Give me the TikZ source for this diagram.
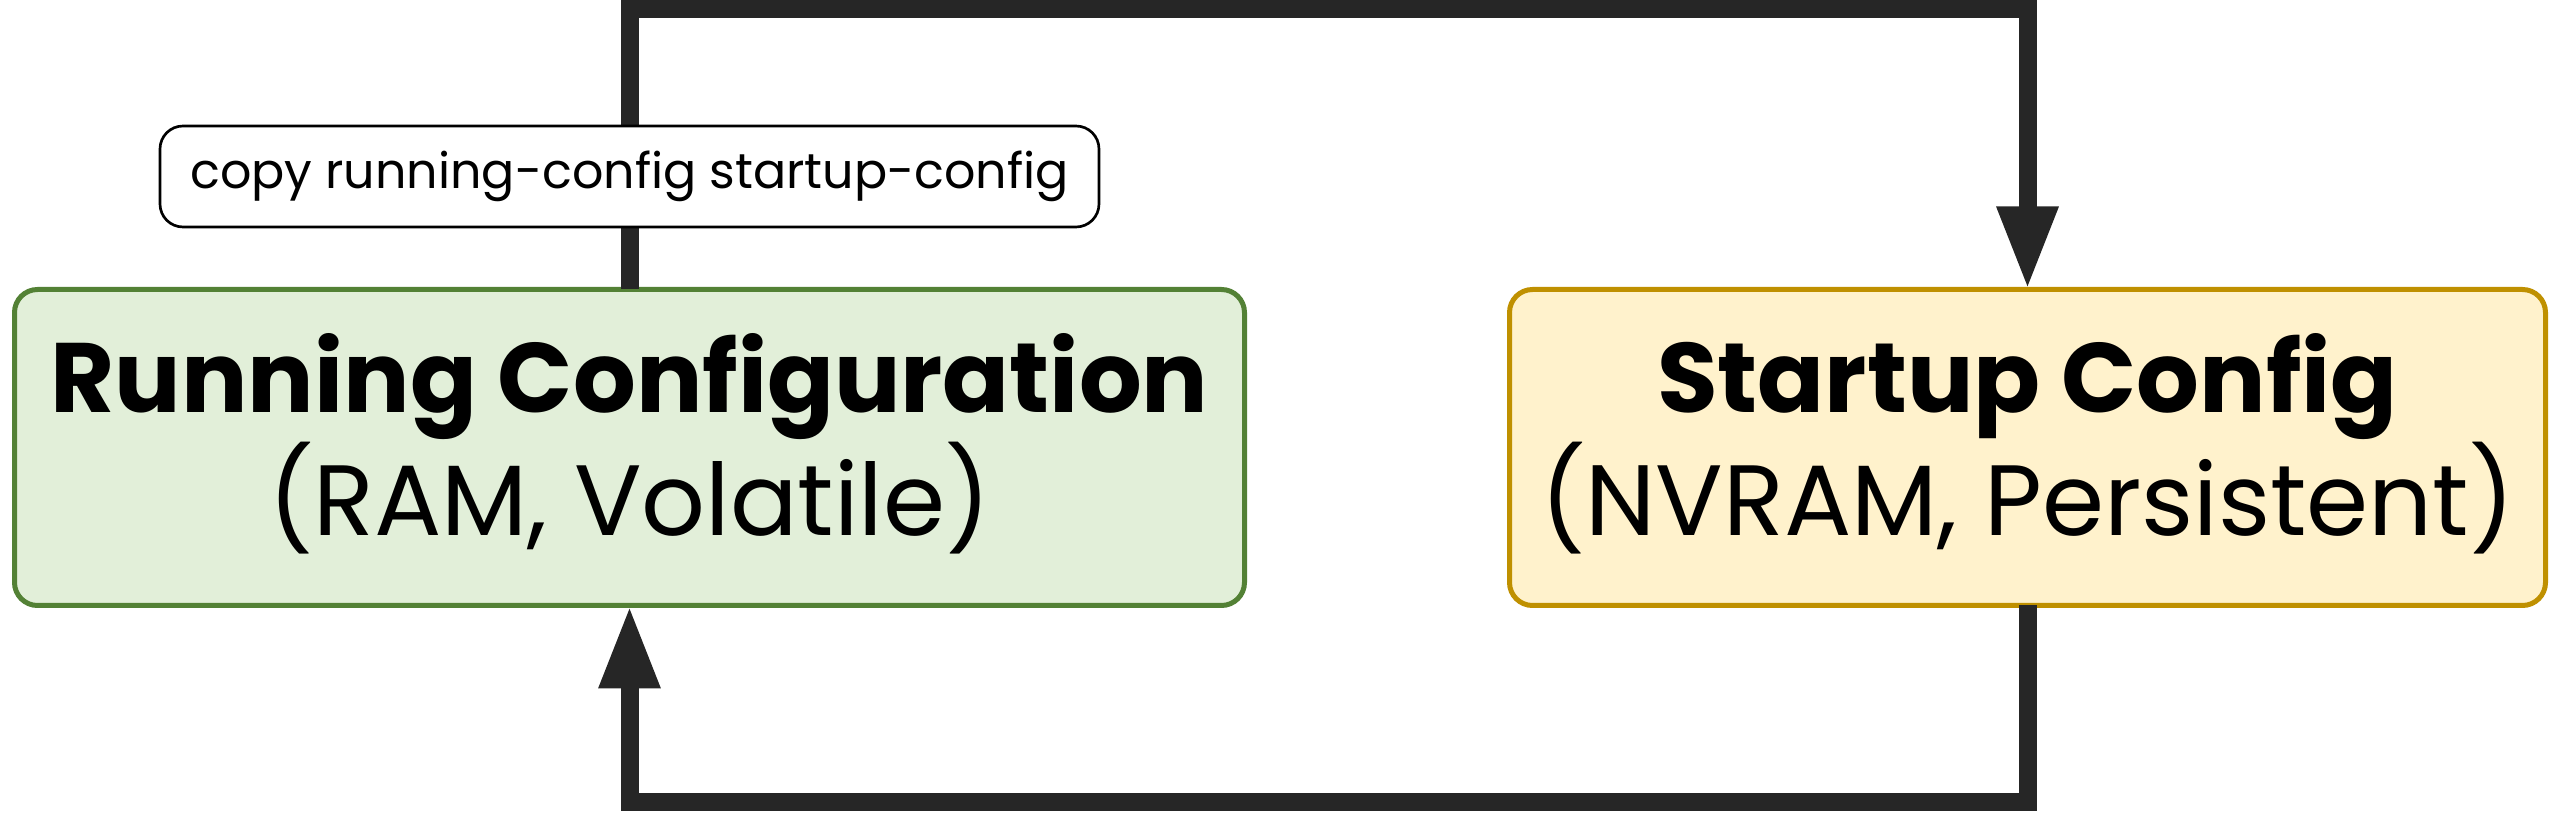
\documentclass[tikz,border=0pt]{standalone}
\usepackage{fontspec}
\setmainfont{Poppins}
\usetikzlibrary{arrows.meta}
\definecolor{linecol}{HTML}{262626}
\definecolor{greenfill}{HTML}{E2EFD9}
\definecolor{greenline}{HTML}{538135}
\definecolor{yellowfill}{HTML}{FFF2CC}
\definecolor{yellowline}{HTML}{BF9000}
\newcommand{\boxtitle}[1]{{\fontsize{29.6pt}{35.4pt}\selectfont\bfseries #1}}
\tikzset{
  cfgbox/.style={draw, line width=1.5pt, rounded corners=6.9pt, align=center,
    font=\fontsize{30pt}{35.4pt}\selectfont, text height=53.1pt, text depth=0pt,
    minimum height=94.8pt, inner sep=0pt, outer sep=0pt},
  lblbox/.style={draw=black, fill=white, line width=0.8pt, rounded corners=6.9pt,
    minimum width=281.7pt, minimum height=30.3pt, inner sep=0pt,
    font=\fontsize{14.75pt}{18pt}\selectfont},
  conn/.style={draw=linecol, line width=5.4pt, line join=miter},
  tip/.style={-{Triangle[width=17.1pt,length=24.9pt]}}
}
\begin{document}
\begin{tikzpicture}[x=0.3pt,y=-0.3pt]
\useasboundingbox (0,0) rectangle (2560,820);
\node[cfgbox, fill=greenfill, draw=greenline, minimum width=369pt] (run) at (629.5,447.5)
  {\boxtitle{Running Configuration}\\(RAM, Volatile)};
\node[cfgbox, fill=yellowfill, draw=yellowline, minimum width=310.8pt] (start) at (2027.5,447.5)
  {\boxtitle{Startup Config}\\(NVRAM, Persistent)};
\coordinate (tl) at (629.5,9.5);
\coordinate (tr) at (2027.5,9.5);
\coordinate (br) at (2027.5,802);
\coordinate (bl) at (629.5,802);
\draw[conn, tip] (run.north) -- (tl) -- (tr) -- (start.north);
\draw[conn, tip] (start.south) -- (br) -- (bl) -- (run.south);
\node[lblbox] (lbl) at (629.5,176.5) {copy running-config startup-config};
\end{tikzpicture}
\end{document}
